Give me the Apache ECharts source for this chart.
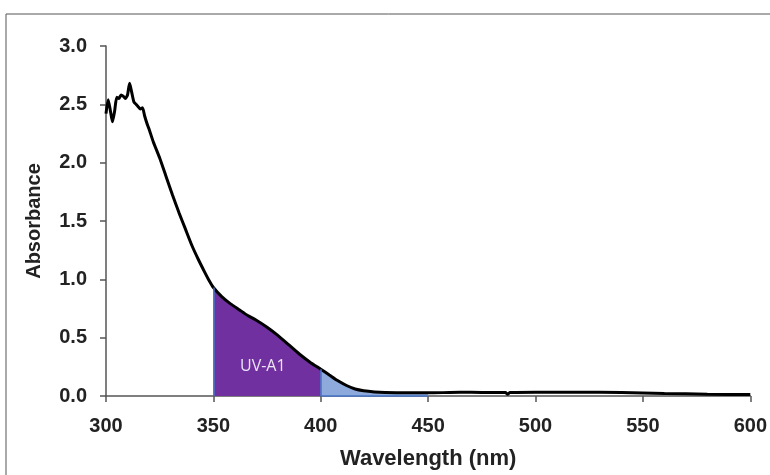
<!DOCTYPE html>
<html>
<head>
<meta charset="utf-8">
<script src="https://cdn.jsdelivr.net/npm/echarts@6/dist/echarts.min.js"></script>
<style>
  html, body { margin: 0; padding: 0; background: #fff; }
  #main { width: 770px; height: 475px; }
</style>
</head>
<body>
<div id="main"></div>
<script>
  // wavelength (nm) and absorbance
  var wavelength = [300, 301, 302, 303, 304, 305, 306, 307, 308, 309, 310, 311, 312, 313, 314, 315, 316, 317, 318, 319,
    320, 322, 325, 328, 331, 334, 337, 340, 343, 346, 348, 350, 354, 358, 362, 366, 370, 375, 380, 385, 390, 395,
    400, 404, 408, 412, 416, 420, 425, 430, 440, 450, 460, 470, 480, 486, 487, 488, 500, 520, 540, 560, 580, 600];
  var absorbance = [2.42, 2.54, 2.45, 2.35, 2.44, 2.56, 2.55, 2.58, 2.57, 2.55, 2.58, 2.68, 2.60, 2.52, 2.50, 2.48, 2.46, 2.47, 2.40, 2.34,
    2.29, 2.18, 2.04, 1.88, 1.72, 1.57, 1.43, 1.29, 1.17, 1.06, 0.99, 0.93, 0.85, 0.79, 0.74, 0.69, 0.65, 0.59, 0.52, 0.44, 0.36, 0.29,
    0.23, 0.18, 0.13, 0.09, 0.06, 0.045, 0.035, 0.03, 0.027, 0.027, 0.03, 0.032, 0.03, 0.03, 0.015, 0.03, 0.033, 0.032, 0.03, 0.022, 0.015, 0.012];
  var xTicks = [300, 350, 400, 450, 500, 550, 600];
  var yTicks = [0, 0.5, 1.0, 1.5, 2.0, 2.5, 3.0];
  var bandA1 = [350, 400];
  var bandBlue = [400, 450];

  var points = wavelength.map(function (w, i) { return [w, absorbance[i]]; });
  function band(r) {
    return points.filter(function (p) { return p[0] >= r[0] && p[0] <= r[1]; });
  }
  function valueAt(w) {
    return absorbance[wavelength.indexOf(w)];
  }

  var font = "'Liberation Sans', Arial, sans-serif";
  var chart = echarts.init(document.getElementById('main'));
  chart.setOption({
    animation: false,
    graphic: [{
      type: 'rect',
      shape: { x: 6, y: 14, width: 800, height: 500 },
      style: { fill: 'none', stroke: '#555', lineWidth: 1 },
      silent: true
    }],
    grid: { left: 106, right: 18, top: 46, bottom: 78 },
    xAxis: {
      type: 'value',
      min: xTicks[0], max: xTicks[xTicks.length - 1], interval: 50,
      name: 'Wavelength (nm)', nameLocation: 'middle', nameGap: 52,
      nameTextStyle: { fontFamily: font, fontWeight: 'bold', fontSize: 22, color: '#222' },
      axisLine: { lineStyle: { color: '#555', width: 1.5 } },
      axisTick: { show: true, length: 6, lineStyle: { color: '#555', width: 1.5 } },
      axisLabel: { fontFamily: font, fontWeight: 'bold', fontSize: 20, color: '#222', margin: 20 },
      splitLine: { show: false }
    },
    yAxis: {
      type: 'value',
      min: yTicks[0], max: yTicks[yTicks.length - 1], interval: 0.5,
      name: 'Absorbance', nameLocation: 'middle', nameGap: 62,
      nameTextStyle: { fontFamily: font, fontWeight: 'bold', fontSize: 20, color: '#222' },
      axisLine: { show: true, lineStyle: { color: '#555', width: 1.5 } },
      axisTick: { show: true, length: 6, lineStyle: { color: '#555', width: 1.5 } },
      axisLabel: {
        fontFamily: font, fontWeight: 'bold', fontSize: 20, color: '#222', margin: 19,
        formatter: function (v) { return v.toFixed(1); }
      },
      splitLine: { show: false }
    },
    series: [
      {
        type: 'line', data: band(bandBlue), symbol: 'none', z: 1,
        lineStyle: { width: 0 },
        areaStyle: { color: '#8eaadc', opacity: 1 },
        markLine: {
          silent: true, symbol: 'none', label: { show: false },
          lineStyle: { color: '#4472c4', width: 1.5, type: 'solid' },
          data: [[{ coord: [bandBlue[0], 0] }, { coord: [bandBlue[1], 0] }]]
        }
      },
      {
        type: 'line', data: band(bandA1), symbol: 'none', z: 2,
        lineStyle: { width: 0 },
        areaStyle: { color: '#7030a0', opacity: 1 },
        markLine: {
          silent: true, symbol: 'none', label: { show: false },
          lineStyle: { color: '#4472c4', width: 1.5, type: 'solid' },
          data: [
            [{ coord: [bandA1[0], 0] }, { coord: [bandA1[0], valueAt(bandA1[0])] }],
            [{ coord: [bandA1[1], 0] }, { coord: [bandA1[1], valueAt(bandA1[1])] }]
          ]
        },
        markPoint: {
          silent: true, symbol: 'rect', symbolSize: 1, itemStyle: { color: 'rgba(0,0,0,0)' },
          label: { show: true, position: 'inside', formatter: 'UV-A1', color: '#ece4f4', fontSize: 16, fontFamily: "'Open Sans', sans-serif" },
          data: [{ coord: [373, 0.25] }]
        }
      },
      {
        type: 'line', data: points, symbol: 'none', smooth: 0.2, z: 3,
        lineStyle: { color: '#000', width: 3 }
      }
    ]
  });
</script>
</body>
</html>
